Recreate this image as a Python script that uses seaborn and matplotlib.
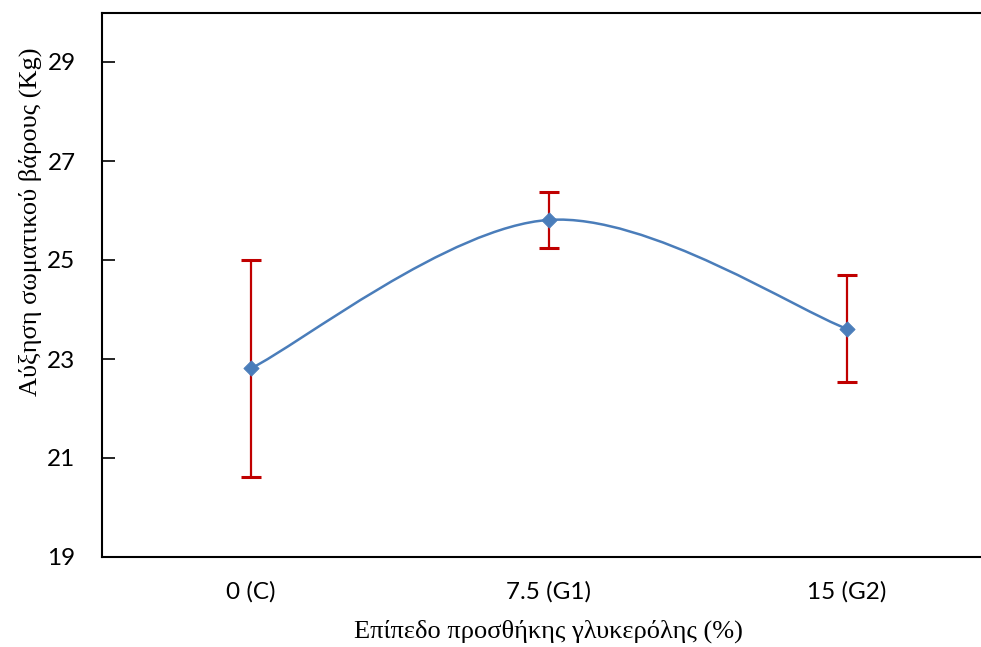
import numpy as np
import matplotlib
matplotlib.use("Agg")
import matplotlib.pyplot as plt
from matplotlib.path import Path
from matplotlib.patches import PathPatch
import seaborn as sns
import pandas as pd

# ---- data ----
categories = ["0 (C)", "7.5 (G1)", "15 (G2)"]
means = [22.81, 25.81, 23.61]
errors = [2.19, 0.56, 1.08]
y_ticks = [19, 21, 23, 25, 27, 29]
x_title = "Επίπεδο προσθήκης γλυκερόλης (%)"
y_title = "Αύξηση σωματικού βάρους (Kg)"

sns.set_theme(style="white")
plt.rcParams['font.family'] = ['Lato', 'DejaVu Sans']

fig = plt.figure(figsize=(9.81, 6.47), dpi=100)
ax = fig.add_axes([102 / 981, 90 / 647, 894 / 981, 544.5 / 647])

xpos = np.arange(len(categories), dtype=float)
df = pd.DataFrame({"x": xpos, "y": means})

line_col = "#4A7DBA"
err_col = "#C00000"

# smoothed line (Excel-style Bezier through the data points)
pts = np.column_stack([xpos, means])
n = len(pts)
verts = [tuple(pts[0])]
codes = [Path.MOVETO]
for i in range(n - 1):
    p_prev = pts[max(i - 1, 0)]
    p0 = pts[i]
    p1 = pts[i + 1]
    p_next = pts[min(i + 2, n - 1)]
    c1 = p0 + (p1 - p_prev) / 6.0
    c2 = p1 - (p_next - p0) / 6.0
    verts += [tuple(c1), tuple(c2), tuple(p1)]
    codes += [Path.CURVE4] * 3
patch = PathPatch(Path(verts, codes), facecolor="none", edgecolor=line_col,
                  lw=1.8, zorder=2)
ax.add_patch(patch)

ax.errorbar(xpos, means, yerr=errors, fmt="none", ecolor=err_col,
            elinewidth=1.6, capsize=7.5, capthick=2.2, zorder=3)

sns.scatterplot(data=df, x="x", y="y", marker="D", s=60, color=line_col,
                edgecolor=line_col, linewidth=0.6, ax=ax, zorder=4, legend=False)

ax.set_xlim(-0.5, len(categories) - 0.5)
ax.set_ylim(19, 30)
ax.set_yticks(y_ticks)
ax.set_yticklabels([str(t) for t in y_ticks])
ax.set_xticks(xpos)
ax.set_xticklabels(categories)

ax.tick_params(axis="y", direction="in", length=9, width=1.2, color="black",
               pad=19, labelsize=17.5, labelcolor="black", left=True)
ax.tick_params(axis="x", length=0, pad=17, labelsize=17.5, labelcolor="black")

for s in ["left", "top", "bottom", "right"]:
    ax.spines[s].set_visible(True)
    ax.spines[s].set_color("black")
    ax.spines[s].set_linewidth(1.5)

ax.set_xlabel(x_title, family=["Liberation Serif", "DejaVu Serif"],
              fontsize=19, color="black", va="center")
ax.set_ylabel(y_title, family=["Liberation Serif", "DejaVu Serif"],
              fontsize=19, color="black", va="center")
ax.xaxis.set_label_coords(0.499, -0.136)
ax.yaxis.set_label_coords(-0.08, 0.6165)

ax.grid(False)
fig.savefig("out.png", dpi=100, facecolor="white")
